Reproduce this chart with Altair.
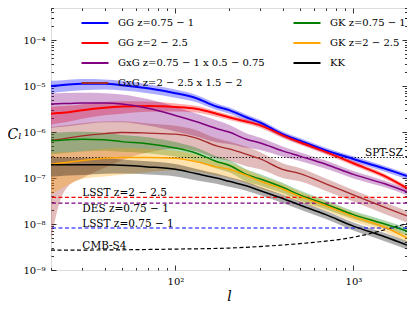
import altair as alt
import pandas as pd

# ---------------- data ----------------
ells = [20, 22, 25, 30, 40, 50, 70, 100, 130, 170, 200, 250, 300, 400, 500, 700, 1000, 1500, 2000]

names = ["GG z=0.75 − 1", "GG z=2 − 2.5", "GxG z=0.75 − 1 x 0.5 − 0.75",
         "GxG z=2 − 2.5 x 1.5 − 2", "GK z=0.75 − 1", "GK z=2 − 2.5", "KK"]
colors = ["#0000ff", "#ff0000", "#800080", "#a52a2a", "#008000", "#ffa500", "#000000"]
widths = [2.0, 2.0, 1.5, 1.3, 1.5, 1.5, 1.5]

gg_075 = [1.0e-5, 1.03e-5, 1.08e-5, 1.12e-5, 1.12e-5, 1.05e-5, 9.0e-6, 7.0e-6, 5.5e-6, 3.6e-6,
          3.0e-6, 2.1e-6, 1.6e-6, 9.0e-7, 6.5e-7, 4.0e-7, 2.6e-7, 1.6e-7, 1.1e-7]
gg_2 = [2.5e-6, 2.6e-6, 2.7e-6, 3.0e-6, 3.4e-6, 3.6e-6, 3.7e-6, 3.5e-6, 3.2e-6, 2.5e-6,
        2.1e-6, 1.7e-6, 1.4e-6, 8.5e-7, 6.0e-7, 3.7e-7, 2.1e-7, 1.1e-7, 6.0e-8]
gxg_075 = [4.1e-6, 4.15e-6, 4.2e-6, 4.3e-6, 4.3e-6, 4.1e-6, 3.3e-6, 2.3e-6, 1.7e-6, 1.2e-6,
           1.0e-6, 7.0e-7, 5.8e-7, 3.9e-7, 3.0e-7, 2.0e-7, 1.2e-7, 7.5e-8, 5.0e-8]
gxg_2 = [6.5e-7, 6.9e-7, 7.5e-7, 8.3e-7, 9.3e-7, 9.8e-7, 9.5e-7, 9.0e-7, 7.5e-7, 5.0e-7,
         4.3e-7, 3.3e-7, 2.6e-7, 1.55e-7, 1.25e-7, 7.5e-8, 4.3e-8, 2.3e-8, 1.5e-8]
gk_075 = [6.5e-7, 6.6e-7, 6.8e-7, 7.0e-7, 6.8e-7, 6.2e-7, 5.6e-7, 4.5e-7, 3.5e-7, 2.3e-7,
          1.9e-7, 1.2e-7, 9.5e-8, 6.3e-8, 4.3e-8, 2.7e-8, 1.6e-8, 1.0e-8, 7.0e-9]
gk_2 = [2.0e-7, 2.1e-7, 2.2e-7, 2.4e-7, 2.7e-7, 2.8e-7, 2.8e-7, 2.7e-7, 2.3e-7, 1.75e-7,
        1.55e-7, 1.15e-7, 8.5e-8, 5.8e-8, 4.0e-8, 2.5e-8, 1.45e-8, 8.5e-9, 5.0e-9]
kk = [1.95e-7, 1.95e-7, 1.95e-7, 1.95e-7, 1.95e-7, 1.9e-7, 1.75e-7, 1.55e-7, 1.25e-7, 1.0e-7,
      8.5e-8, 6.8e-8, 5.3e-8, 3.6e-8, 2.6e-8, 1.6e-8, 9.0e-9, 5.3e-9, 3.5e-9]

# relative 1-sigma half widths of the shaded bands
sig_gg_075 = [0.30, 0.29, 0.28, 0.27, 0.25, 0.24, 0.22, 0.20, 0.18, 0.16, 0.15, 0.15, 0.14, 0.14, 0.14, 0.14, 0.14, 0.14, 0.14]
sig_gg_2 = [0.42, 0.40, 0.38, 0.35, 0.32, 0.30, 0.25, 0.20, 0.17, 0.14, 0.13, 0.12, 0.12, 0.12, 0.12, 0.12, 0.12, 0.12, 0.12]
sig_gxg_075 = [0.70, 0.69, 0.68, 0.66, 0.62, 0.60, 0.58, 0.55, 0.52, 0.50, 0.45, 0.35, 0.30, 0.25, 0.22, 0.20, 0.18, 0.16, 0.15]
sig_gxg_2 = [0.993, 0.965, 0.91, 0.88, 0.82, 0.75, 0.62, 0.52, 0.48, 0.46, 0.45, 0.45, 0.40, 0.35, 0.32, 0.30, 0.28, 0.28, 0.28]
sig_gk_075 = [0.50, 0.49, 0.48, 0.46, 0.42, 0.40, 0.38, 0.35, 0.32, 0.30, 0.30, 0.30, 0.28, 0.25, 0.24, 0.22, 0.20, 0.20, 0.20]
sig_gk_2 = [0.78, 0.74, 0.68, 0.60, 0.60, 0.58, 0.52, 0.45, 0.40, 0.36, 0.35, 0.32, 0.30, 0.27, 0.25, 0.23, 0.22, 0.21, 0.20]
sig_kk = [0.45, 0.44, 0.42, 0.40, 0.36, 0.34, 0.32, 0.30, 0.28, 0.25, 0.24, 0.22, 0.20, 0.20, 0.20, 0.20, 0.20, 0.20, 0.20]

series = [gg_075, gg_2, gxg_075, gxg_2, gk_075, gk_2, kk]
sigmas = [sig_gg_075, sig_gg_2, sig_gxg_075, sig_gxg_2, sig_gk_075, sig_gk_2, sig_kk]

# noise levels
noise_names = ["LSST z=2 − 2.5", "DES z=0.75 − 1", "LSST z=0.75 − 1", "SPT-SZ"]
noise_levels = [3.8e-8, 2.86e-8, 8.2e-9, 2.8e-7]
noise_colors = ["#ff0000", "#800080", "#0000ff", "#000000"]

cmb_ells = [20, 50, 100, 200, 400, 600, 900, 1200, 1500, 2000]
cmb_s4 = [2.7e-9, 2.75e-9, 2.85e-9, 3.0e-9, 3.5e-9, 4.0e-9, 4.8e-9, 6.0e-9, 7.5e-9, 1.03e-8]

x_ticks_major = [100, 1000]
x_ticks = [20, 30, 40, 50, 60, 70, 80, 90, 100, 200, 300, 400, 500, 600, 700, 800, 900, 1000, 2000]
y_exps = [-9, -8, -7, -6, -5, -4]

# ---------------- tables ----------------
rows = []
for name, vals, sig, w in zip(names, series, sigmas, widths):
    for l, c, s in zip(ells, vals, sig):
        rows.append({"series": name, "band": "band " + name, "l": l, "C": c,
                     "lo": c * (1 - s), "hi": c * (1 + s), "w": w})
df = pd.DataFrame(rows)

noise_df = pd.DataFrame({"name": noise_names, "level": noise_levels, "color": noise_colors})
cmb_df = pd.DataFrame({"l": cmb_ells, "C": cmb_s4})
lab_df = pd.DataFrame({"name": ["LSST z=2 − 2.5", "LSST z=0.75 − 1", "CMB-S4"],
                       "l": [30, 30, 30], "C": [3.8e-8, 8.2e-9, 2.7e-9]})
lab_top_df = pd.DataFrame({"name": ["DES z=0.75 − 1"], "l": [30], "C": [2.86e-8]})
lab_right_df = pd.DataFrame({"name": ["SPT-SZ"], "l": [2000], "C": [2.8e-7]})

y_ticks = [m * 10.0 ** e for e in y_exps for m in range(1, 10)] + [2e-4, 3e-4, 4e-4, 5e-4]
y_major = [10.0 ** e for e in y_exps]

SUP = {"-": "⁻", "0": "⁰", "1": "¹", "2": "²", "3": "³", "4": "⁴",
       "5": "⁵", "6": "⁶", "7": "⁷", "8": "⁸", "9": "⁹"}


def sup(n):
    return "".join(SUP[ch] for ch in str(n))


def label_expr(exps):
    parts = []
    for e in exps:
        v = 10.0 ** e
        parts.append(f"abs(datum.value - {v!r}) < {v * 1e-6!r} ? '10{sup(e)}'")
    return " : ".join(parts) + " : ''"


major_test = "abs(log(datum.value)/LN10 - round(log(datum.value)/LN10)) < 1e-6"
tick_size = {"condition": {"test": major_test, "value": 5}, "value": 2.5}

W, H = 356, 262
FONT = "DejaVu Serif"

xs = alt.Scale(type="log", domain=[20, 2000], nice=False)
ys = alt.Scale(type="log", domain=[1e-9, 5e-4], nice=False)

cscale = alt.Scale(domain=names, range=colors)
fscale = alt.Scale(domain=["band " + n for n in names], range=colors)

x_main = alt.Axis(values=x_ticks_major, labelExpr=label_expr([2, 3]), ticks=False, domain=False,
                  grid=False, title="l", titleFontStyle="italic", titleFontWeight="normal",
                  titleFontSize=14, labelFontSize=10, labelPadding=6, titlePadding=3)
y_main = alt.Axis(values=y_major, labelExpr=label_expr(y_exps), ticks=False, domain=False,
                  grid=False, title="Cₗ", titleFontStyle="italic", titleFontWeight="normal",
                  titleFontSize=14, titleAngle=0, titleX=-37, titleY=H / 2 + 2,
                  labelFontSize=10, labelPadding=6)
blank_axis = alt.Axis(labels=False, ticks=False, domain=False, grid=False, title=None)

X = lambda f: alt.X(f, scale=xs, axis=None)
Y = lambda f: alt.Y(f, scale=ys, axis=None)

bands = alt.Chart(df).mark_area(opacity=0.32, interpolate="monotone").encode(
    x=alt.X("l:Q", scale=xs, axis=x_main),
    y=alt.Y("lo:Q", scale=ys, axis=y_main),
    y2="hi:Q",
    fill=alt.Fill("band:N", scale=fscale, legend=None),
    detail="band:N",
)

lines = alt.Chart(df).mark_line(interpolate="monotone").encode(
    x=alt.X("l:Q", scale=xs, axis=blank_axis),
    y=alt.Y("C:Q", scale=ys, axis=blank_axis),
    strokeWidth=alt.StrokeWidth("w:Q", scale=None, legend=None),
    color=alt.Color("series:N", scale=cscale, sort=names, legend=alt.Legend(
        title=None, orient="none", legendX=29, legendY=0, columns=2, symbolType="stroke",
        symbolSize=730, symbolStrokeWidth=2, labelFontSize=10, labelFont=FONT,
        labelColor="black", rowPadding=0, columnPadding=24, labelOffset=8, padding=0)),
)

noise_dashed = alt.Chart(noise_df[noise_df["name"] != "SPT-SZ"]).mark_rule(
    strokeDash=[4, 2.5], strokeWidth=1.2).encode(
    y=Y("level:Q"),
    color=alt.Color("color:N", scale=None),
)
noise_dotted = alt.Chart(noise_df[noise_df["name"] == "SPT-SZ"]).mark_rule(
    strokeDash=[1.2, 2], strokeWidth=1.2, color="black").encode(
    y=Y("level:Q"),
)
cmb_line = alt.Chart(cmb_df).mark_line(strokeDash=[4, 2.5], strokeWidth=1.2, color="black",
                                       interpolate="monotone").encode(
    x=X("l:Q"), y=Y("C:Q"))

txt_kw = dict(font=FONT, fontSize=10.5, color="black")
labels_a = alt.Chart(lab_df).mark_text(align="left", baseline="alphabetic", dy=-1, **txt_kw).encode(
    x=X("l:Q"), y=Y("C:Q"), text="name:N")
labels_b = alt.Chart(lab_top_df).mark_text(align="left", baseline="top", dy=1, **txt_kw).encode(
    x=X("l:Q"), y=Y("C:Q"), text="name:N")
labels_c = alt.Chart(lab_right_df).mark_text(align="right", baseline="alphabetic", dx=-4, dy=-1,
                                              **txt_kw).encode(
    x=X("l:Q"), y=Y("C:Q"), text="name:N")

# inward tick marks on all four sides
tick_common = dict(labels=False, domain=False, grid=False, title=None, tickSize=tick_size,
                   tickColor="black", tickWidth=0.8)
ticks_a = alt.Chart(df).mark_point(opacity=0).encode(
    x=alt.X("l:Q", scale=xs, axis=alt.Axis(orient="top", offset=-H, values=x_ticks, **tick_common)),
    y=alt.Y("C:Q", scale=ys, axis=alt.Axis(orient="right", offset=-W, values=y_ticks, **tick_common)),
)
ticks_b = alt.Chart(df).mark_point(opacity=0).encode(
    x=alt.X("l:Q", scale=xs, axis=alt.Axis(orient="bottom", offset=-H, values=x_ticks, **tick_common)),
    y=alt.Y("C:Q", scale=ys, axis=alt.Axis(orient="left", offset=-W, values=y_ticks, **tick_common)),
)

chart = alt.layer(
    bands, noise_dashed, noise_dotted, cmb_line, lines, labels_a, labels_b, labels_c, ticks_a, ticks_b
).resolve_axis(x="independent", y="independent").properties(
    width=W, height=H,
    autosize=alt.AutoSizeParams(type="none"),
    padding={"left": 43, "top": 0, "right": 0, "bottom": 35},
).configure_view(stroke="black", strokeWidth=1.2).configure_axis(
    labelFont=FONT, titleFont=FONT, labelColor="black", titleColor="black"
).configure(font=FONT)

chart.save("out.html", embed_options={"renderer": "svg", "actions": False})
